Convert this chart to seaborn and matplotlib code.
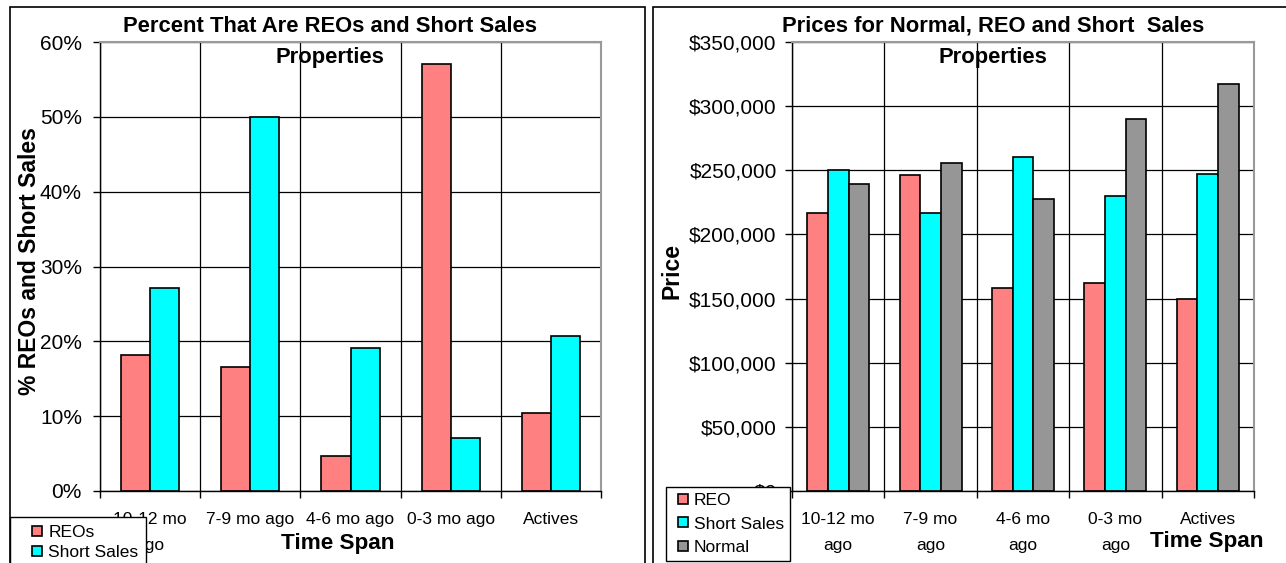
import matplotlib
matplotlib.use("Agg")
import matplotlib.pyplot as plt
from matplotlib.patches import Rectangle, Patch
from matplotlib.legend_handler import HandlerPatch
from matplotlib.ticker import FuncFormatter, FixedLocator
import seaborn as sns
import pandas as pd
import numpy as np

# ---------------- data ----------------
spans_left = ["10-12 mo\nago", "7-9 mo ago", "4-6 mo ago", "0-3 mo ago", "Actives"]
reo_pct = [0.182, 0.166, 0.047, 0.571, 0.104]
short_pct = [0.271, 0.500, 0.191, 0.071, 0.207]

spans_right = ["10-12 mo\nago", "7-9 mo\nago", "4-6 mo\nago", "0-3 mo\nago", "Actives"]
reo_price = [217000, 246000, 158000, 162000, 150000]
short_price = [250000, 217000, 260000, 230000, 247000]
normal_price = [239000, 256000, 228000, 290000, 317000]

left_series = ["REOs", "Short Sales"]
right_series = ["REO", "Short Sales", "Normal"]
c_reo, c_short, c_norm = "#FF8080", "#00FFFF", "#969696"

sns.set_theme(style="white")
plt.rcParams["font.family"] = ["Liberation Sans", "DejaVu Sans"]
for k in ["text.color", "axes.labelcolor", "xtick.color", "ytick.color"]:
    plt.rcParams[k] = "black"

W, H = 1286, 563
fig = plt.figure(figsize=(W / 100, H / 100), dpi=100)

def fx(x):
    return x / W

def fy(y):
    return 1 - y / H

# panel borders
fig.patches.append(Rectangle((fx(10), fy(575)), fx(645 - 10), (575 - 7) / H,
                             transform=fig.transFigure, fill=False, edgecolor="black", lw=1.2))
fig.patches.append(Rectangle((fx(652.5), fy(575)), fx(1300 - 652.5), (575 - 7) / H,
                             transform=fig.transFigure, fill=False, edgecolor="black", lw=1.2))

SQ = 7.2  # legend square side in points

def square_handle(legend, orig_handle, xdescent, ydescent, width, height, fontsize):
    y0 = -ydescent + (height - SQ) / 2
    return Rectangle((-xdescent + width - SQ, y0), SQ, SQ)

def style_axes(ax, ncat, ytick_pad):
    ax.set_xlim(-0.5, ncat - 0.5)
    ax.xaxis.set_minor_locator(FixedLocator(np.arange(-0.5, ncat, 1.0)))
    ax.tick_params(axis="x", which="major", length=0, pad=15, labelsize=12.5, colors="black")
    ax.tick_params(axis="x", which="minor", length=5, width=1, color="black", direction="out", bottom=True)
    ax.tick_params(axis="y", which="major", length=5, width=1, color="black", direction="out",
                   left=True, pad=ytick_pad, labelsize=15, labelcolor="black")
    ax.grid(False)
    ax.yaxis.grid(True, color="black", lw=0.9)
    ax.xaxis.grid(True, which="minor", color="black", lw=0.9)
    ax.set_axisbelow(True)
    for s in ["left", "bottom"]:
        ax.spines[s].set_color("black")
        ax.spines[s].set_linewidth(1.0)
    for s in ["top", "right"]:
        ax.spines[s].set_color("#999999")
        ax.spines[s].set_linewidth(1.5)
    ax.set_xlabel("")
    ax.set_ylabel("")
    for lbl in ax.get_xticklabels():
        lbl.set_linespacing(1.9)
        lbl.set_va("top")

def make_legend(colors, labels, top_left, hlen, lspace, bpad):
    handles = [Patch(facecolor=c, edgecolor="black", lw=1.2, label=l) for c, l in zip(colors, labels)]
    leg = fig.legend(handles=handles, loc="upper left",
                     bbox_to_anchor=(fx(top_left[0]), fy(top_left[1])), bbox_transform=fig.transFigure,
                     frameon=True, fancybox=False, edgecolor="black", framealpha=1, fontsize=12.5,
                     handlelength=hlen, handleheight=0.7, handletextpad=0.35, labelspacing=lspace,
                     borderpad=bpad, borderaxespad=0,
                     handler_map={Patch: HandlerPatch(patch_func=square_handle)})
    leg.get_frame().set_linewidth(1.0)
    leg.set_zorder(10)
    return leg

# ---------------- left chart ----------------
axL = fig.add_axes([fx(100), fy(491), fx(601 - 100), (491 - 42) / H])
dfL = pd.DataFrame({
    "span": spans_left * 2,
    "series": [left_series[0]] * 5 + [left_series[1]] * 5,
    "value": reo_pct + short_pct,
})
sns.barplot(data=dfL, x="span", y="value", hue="series", order=spans_left,
            hue_order=left_series, palette=[c_reo, c_short], width=0.58,
            edgecolor="black", linewidth=1.2, saturation=1, ax=axL, legend=False)
axL.set_ylim(0, 0.6)
axL.set_yticks(np.arange(0, 0.61, 0.1))
axL.yaxis.set_major_formatter(FuncFormatter(lambda v, p: f"{v*100:.0f}%"))
style_axes(axL, 5, 8)

fig.text(fx(330), fy(27), "Percent That Are REOs and Short Sales", ha="center", va="center",
         fontsize=15.8, fontweight="bold")
fig.text(fx(330), fy(57), "Properties", ha="center", va="center", fontsize=15.8, fontweight="bold")
fig.text(fx(30), fy(261), "% REOs and Short Sales", rotation=90, ha="center", va="center",
         fontsize=16.5, fontweight="bold")
fig.text(fx(338), fy(544), "Time Span", ha="center", va="center", fontsize=16.2, fontweight="bold")

make_legend([c_reo, c_short], left_series, (10, 517), 1.4, 0.3, 0.45)

# ---------------- right chart ----------------
axR = fig.add_axes([fx(792), fy(491), fx(1254 - 792), (491 - 42) / H])
dfR = pd.DataFrame({
    "span": spans_right * 3,
    "series": [right_series[0]] * 5 + [right_series[1]] * 5 + [right_series[2]] * 5,
    "value": reo_price + short_price + normal_price,
})
sns.barplot(data=dfR, x="span", y="value", hue="series", order=spans_right,
            hue_order=right_series, palette=[c_reo, c_short, c_norm], width=0.67,
            edgecolor="black", linewidth=1.2, saturation=1, ax=axR, legend=False)
axR.set_ylim(0, 350000)
axR.set_yticks(np.arange(0, 350001, 50000))
axR.yaxis.set_major_formatter(FuncFormatter(lambda v, p: f"${v:,.0f}"))
style_axes(axR, 5, 6)

fig.text(fx(993), fy(26), "Prices for Normal, REO and Short  Sales", ha="center", va="center",
         fontsize=15.8, fontweight="bold")
fig.text(fx(993), fy(57), "Properties", ha="center", va="center", fontsize=15.8, fontweight="bold")
fig.text(fx(672), fy(271), "Price", rotation=90, ha="center", va="center",
         fontsize=16.5, fontweight="bold")
fig.text(fx(1207), fy(541), "Time Span", ha="center", va="center", fontsize=16.2, fontweight="bold")

make_legend([c_reo, c_short, c_norm], right_series, (666, 487), 0.9, 0.47, 0.35)

fig.savefig("out.png", dpi=100)
